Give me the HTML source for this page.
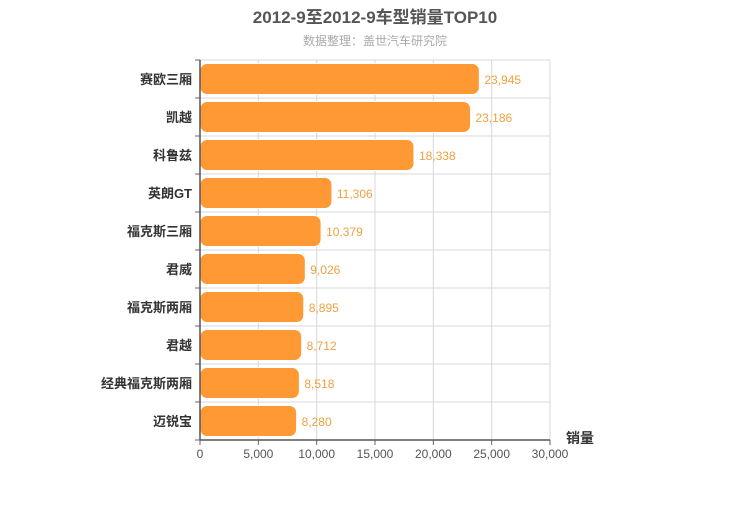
<!DOCTYPE html>
<html><head><meta charset="utf-8"><style>
body{margin:0;background:#fff;}
svg{font-family:"Liberation Sans","Noto Sans CJK SC",sans-serif;}
</style></head><body>
<svg id="c" width="750" height="500">
<text x="375" y="23" text-anchor="middle" font-size="17" font-weight="bold" fill="#555">2012-9至2012-9车型销量TOP10</text>
<text x="375" y="45" text-anchor="middle" font-size="12" fill="#aaa">数据整理：盖世汽车研究院</text>
<text x="580" y="443" text-anchor="middle" font-size="14" font-weight="bold" fill="#333">销量</text>
<g id="g"></g>
</svg>
<script>
const categories=["赛欧三厢","凯越","科鲁兹","英朗GT","福克斯三厢","君威","福克斯两厢","君越","经典福克斯两厢","迈锐宝"];
const values=[23945,23186,18338,11306,10379,9026,8895,8712,8518,8280];
const ticks=[0,5000,10000,15000,20000,25000,30000];
const X0=200,X1=550,Y0=60,Y1=440,MAX=30000;
const x=v=>X0+v/MAX*(X1-X0);
const rowH=(Y1-Y0)/categories.length;
const g=document.getElementById('g');
const ns='http://www.w3.org/2000/svg';
function mk(t,a,txt){const e=document.createElementNS(ns,t);for(const k in a)e.setAttribute(k,a[k]);if(txt!==undefined)e.textContent=txt;g.appendChild(e);return e;}
ticks.forEach(t=>{
 const l=mk('line',{x1:x(t),x2:x(t),y1:Y0,y2:Y1,stroke:'#d8d8d8'});
 
 
 const tk=mk('line',{x1:x(t),x2:x(t),y1:Y1,y2:Y1+5,stroke:'#666'});
 
 
 const tl=mk('text',{x:x(t),y:Y1+18,'text-anchor':'middle','font-size':12,fill:'#555'},t.toLocaleString('en-US'));
 
 
});
for(let i=0;i<=categories.length;i++){
 const y=Y0+i*rowH;
 const l=mk('line',{x1:X0,x2:X1,y1:y,y2:y,stroke:'#d8d8d8'});
 
 
 const tk=mk('line',{x1:X0-5,x2:X0,y1:y,y2:y,stroke:'#666'});
 
 
}
categories.forEach((c,i)=>{
 const cy=Y0+(i+0.5)*rowH;
 const r=mk('rect',{x:X0,y:cy-15.5,width:x(values[i])-X0,height:31,rx:7,fill:'#ff9933',stroke:'#fff','stroke-width':1});
 
 
 const v=mk('text',{x:x(values[i])+5,y:cy+5,'font-size':12,fill:'#f0a040'},values[i].toLocaleString('en-US'));
 
 
 const t=mk('text',{x:X0-8,y:cy+5,'text-anchor':'end','font-size':13,'font-weight':'bold',fill:'#333'},c);
 
 
});
const ya=mk('line',{x1:X0,x2:X0,y1:Y0,y2:Y1,stroke:'#555','stroke-width':1.5});


const xa=mk('line',{x1:X0,x2:X1,y1:Y1,y2:Y1,stroke:'#555','stroke-width':1.5});


</script>
</body></html>
